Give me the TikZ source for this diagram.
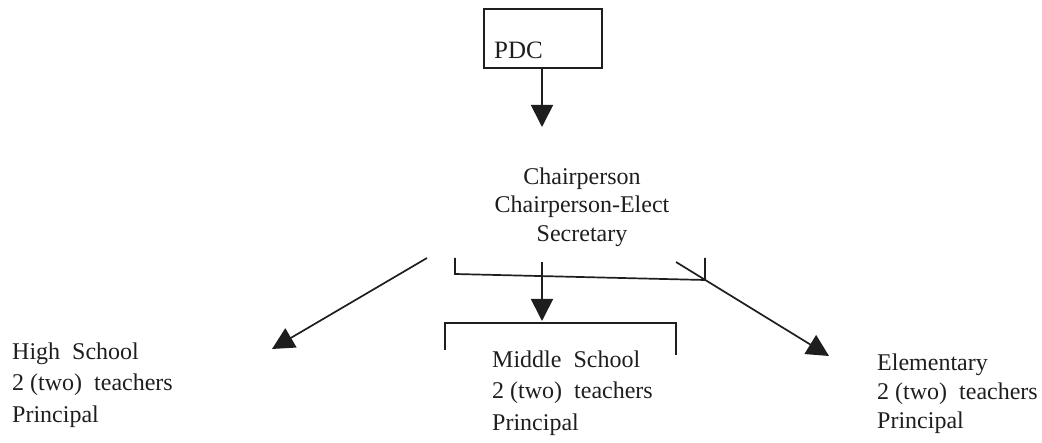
\documentclass[tikz,border=0pt]{standalone}
\usepackage{fontspec}
\setmainfont{Liberation Serif}
\usetikzlibrary{arrows.meta}
\definecolor{ink}{HTML}{1E1E1E}
\tikzset{
  ln/.style={draw=ink, line width=1.7pt},
  arr/.style={ln, -{Triangle[width=22pt,length=22pt]}},
  lbl/.style={text=ink, inner sep=0pt, align=left, anchor=west},
}
\newcommand{\wsp}{\hspace{0.5em}}
\begin{document}
\begin{tikzpicture}[x=1pt,y=-1pt]
\useasboundingbox (0,0) rectangle (1042,443);
% PDC box
\node[ln, minimum width=118pt, minimum height=59pt, inner sep=0pt] (pdc) at (543,38.5) {};
\node[lbl, font=\fontsize{25}{28}\selectfont] (pdctxt) at (494,50) {PDC};
\coordinate (a1) at (542,127);
\draw[arr] (pdc.south -| a1) -- (a1);
% officers
\node[text=ink, inner sep=0pt, align=center, font=\fontsize{24}{28.5}\selectfont] (chair) at (582,207)
  {Chairperson\\Chairperson-Elect\\Secretary};
% top bracket
\coordinate (b1) at (455,258);
\coordinate (b2) at (455,274);
\coordinate (b3) at (705,280);
\coordinate (b4) at (705,258);
\draw[ln] (b1) -- (b2) -- (b3) -- (b4);
% middle bracket
\coordinate (m1) at (445,350);
\coordinate (m2) at (445,323);
\coordinate (m3) at (676,323);
\coordinate (m4) at (676,355);
\draw[ln] (m1) -- (m2) -- (m3) -- (m4);
% arrows
\coordinate (c0) at (542,262);
\coordinate (c1) at (542,321);
\draw[arr] (c0) -- (c1);
\coordinate (l0) at (427,258);
\coordinate (l1) at (272,349);
\draw[arr] (l0) -- (l1);
\coordinate (r0) at (676,262);
\coordinate (r1) at (829,356);
\draw[arr] (r0) -- (r1);
% schools
\node[lbl, font=\fontsize{24}{31.5}\selectfont] (hs) at (12,385)
  {High\wsp School\\2 (two)\wsp teachers\\Principal};
\node[lbl, font=\fontsize{24}{31.5}\selectfont] (ms) at (492,393)
  {Middle\wsp School\\2 (two)\wsp teachers\\Principal};
\node[lbl, font=\fontsize{24}{29}\selectfont] (el) at (877,394)
  {Elementary\\2 (two)\wsp teachers\\Principal};
\end{tikzpicture}
\end{document}
